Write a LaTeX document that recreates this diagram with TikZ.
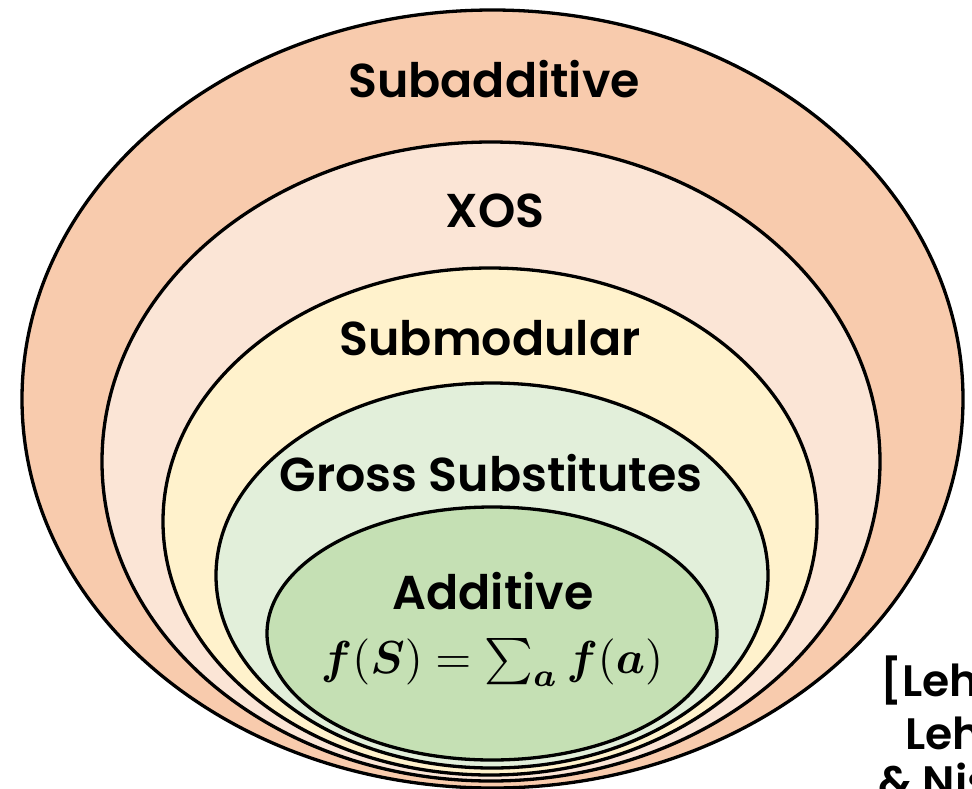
\documentclass[tikz,border=0pt]{standalone}
\usepackage{fontspec}
\usepackage{bm}
\setmainfont{Poppins}[BoldFont={Poppins SemiBold}]
\usetikzlibrary{shapes.geometric}
\definecolor{cSubadd}{HTML}{F8CBAD}
\definecolor{cXOS}{HTML}{FBE5D6}
\definecolor{cSubmod}{HTML}{FFF2CC}
\definecolor{cGS}{HTML}{E2EFDA}
\definecolor{cAdd}{HTML}{C5E0B4}
\tikzset{
  set/.style={ellipse, draw=black, line width=3.3pt, inner sep=0pt},
  lbl/.style={font=\fontsize{47.5}{56}\selectfont\bfseries, inner sep=0pt, anchor=base},
  cite/.style={font=\fontsize{44}{52}\selectfont\bfseries, inner sep=0pt, anchor=base west}
}
\begin{document}
\begin{tikzpicture}[x=1pt,y=-1pt]
\useasboundingbox (0,0) rectangle (972,788);
\clip (0,0) rectangle (972,788);
\node[set, fill=cSubadd, minimum width=941pt, minimum height=778pt] (subadd) at (492.5,399) {};
\node[set, fill=cXOS, minimum width=778pt, minimum height=639pt] (xos) at (491,461.5) {};
\node[set, fill=cSubmod, minimum width=654pt, minimum height=507pt] (submod) at (490,521.5) {};
\node[set, fill=cGS, minimum width=552pt, minimum height=385pt] (gs) at (492,575.5) {};
\node[set, fill=cAdd, minimum width=450pt, minimum height=253pt] (add) at (492,633.5) {};
\node[lbl] (tsubadd) at (494,97) {Subadditive};
\node[lbl] (txos) at (495,227) {XOS};
\node[lbl] (tsubmod) at (490,355) {Submodular};
\node[lbl] (tgs) at (491,491) {Gross Substitutes};
\node[lbl, text depth=0pt] (tadd) at (493,609) {Additive};
\node[inner sep=0pt, anchor=base] (tformula) at (492,673) {\resizebox{342pt}{!}{$\bm{f}(\bm{S}) = \textstyle\sum_{\bm{a}} \bm{f}(\bm{a})$}};
\node[cite] (c1) at (880,696) {[Leh};
\node[cite] (c2) at (905,749) {Leh};
\node[cite] (c3) at (878,797) {\& Nis};
\end{tikzpicture}
\end{document}
